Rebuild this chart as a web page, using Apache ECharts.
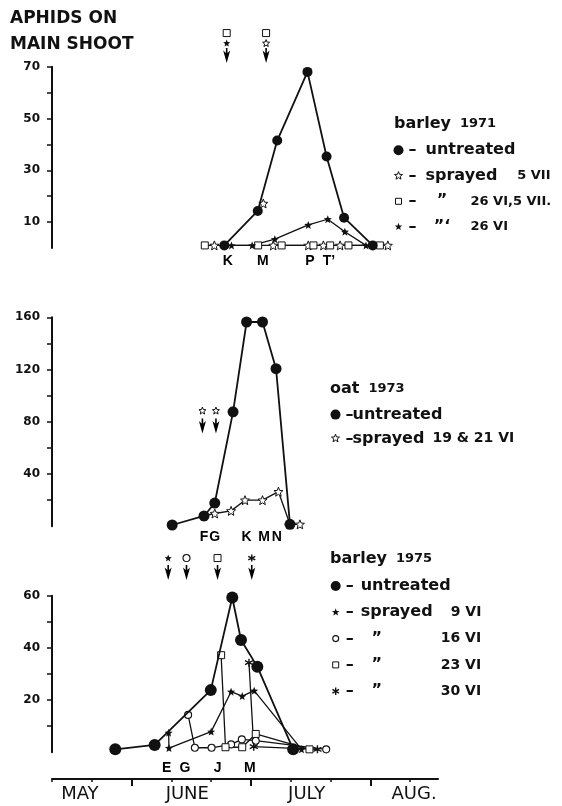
<!DOCTYPE html>
<html><head><meta charset="utf-8">
<script src="https://cdn.jsdelivr.net/npm/echarts@6/dist/echarts.min.js"></script>
<style>html,body{margin:0;padding:0;background:#fff}#c{width:562px;height:806px}</style>
</head><body><div id="c"></div>
<script>
// ===== DATA (x = days after 1 May, months drawn as 30 days) =====
const monthNames = ['MAY', 'JUNE', 'JULY', 'AUG.'];
const monthLabelDays = [17, 44, 74, 101];
const monthBoundaryDays = [30, 60, 90];
const dayTicks = [10, 20, 30, 40, 50, 60, 70, 80, 90, 100];

// Panel 1 – barley 1971
const b71YTicks = [10, 20, 30, 40, 50, 60, 70];
const b71YLabels = [10, 30, 50, 70];
const b71UntreatedX = [53.3, 61.7, 66.6, 74.2, 79.0, 83.4, 90.6];
const b71UntreatedY = [1, 14.3, 41.5, 68, 35.3, 11.7, 1];
const b71Spr5VIIX = [50.8, null, 63.1, null, 65.6, 74.4, 78.2, 82.4, 94.4];
const b71Spr5VIIY = [1, null, 17.2, null, 1, 1, 1, 1, 1];
const b71Spr26VI5VIIX = [48.4, 61.8, 67.7, 75.7, 79.9, 84.5, 92.4];
const b71Spr26VI5VIIY = [1, 1, 1, 1, 1, 1, 1];
const b71Spr26VIX = [55.1, 60.3, 66.0, 74.4, 79.3, 83.6, 88.9];
const b71Spr26VIY = [1, 1, 3.4, 8.9, 11.1, 6.3, 1];
const b71Stages = ['K', 'M', 'P', 'T’'];
const b71StageX = [54.2, 63.0, 74.8, 79.6];
const b71SprayX = [53.9, 63.8];
const b71SprayMarks = [['filledStar', 'openSquare'], ['openStar', 'openSquare']];
const b71Title = ['barley', '1971'];
const b71Treat = ['untreated', 'sprayed', '”', '”‘'];
const b71Dates = ['', '5 VII', '26 VI,5 VII.', '26 VI'];

// Panel 2 – oat 1973
const o73YTicks = [20, 40, 60, 80, 100, 120, 140, 160];
const o73YLabels = [40, 80, 120, 160];
const o73UntreatedX = [40.2, 48.2, 50.9, 55.5, 58.9, 62.9, 66.3, 69.8];
const o73UntreatedY = [1, 7.9, 17.8, 87.6, 156.4, 156.4, 120.7, 1.5];
const o73SprayedX = [48.2, 50.9, 55.0, 58.5, 62.9, 66.9, 69.8, 72.3];
const o73SprayedY = [7.9, 9.8, 11.8, 20, 20, 26.5, 1.5, 1.5];
const o73Stages = ['F', 'G', 'K', 'M', 'N'];
const o73StageX = [48.2, 50.9, 58.9, 63.3, 66.5];
const o73SprayX = [47.8, 51.2];
const o73SprayMarks = [['openStar'], ['openStar']];
const o73Title = ['oat', '1973'];
const o73Treat = ['untreated', 'sprayed'];
const o73Dates = ['', '19 & 21 VI'];

// Panel 3 – barley 1975
const b75YTicks = [10, 20, 30, 40, 50, 60];
const b75YLabels = [20, 40, 60];
const b75UntreatedX = [25.9, 35.8, 49.9, 55.3, 57.5, 61.6, 70.6];
const b75UntreatedY = [1.1, 2.8, 23.8, 59.3, 43, 32.8, 1.1];
const b75Spr9VIX = [39.3, 39.4, 50.0, 55.0, 57.8, 60.8, 72.7];
const b75Spr9VIY = [7.5, 1.6, 7.9, 23.2, 21.5, 23.6, 1.1];
const b75Spr16VIX = [44.2, 45.9, 50.1, 55.0, 57.7, 61.2, 78.9];
const b75Spr16VIY = [14.3, 1.7, 1.7, 3.0, 4.9, 4.4, 1.1];
const b75Spr23VIX = [52.5, 53.6, 57.8, 61.2, 74.7];
const b75Spr23VIY = [37.2, 1.9, 1.9, 7.0, 1.1];
const b75Spr30VIX = [59.5, 60.7, 76.7];
const b75Spr30VIY = [34.3, 2.1, 1.1];
const b75Stages = ['E', 'G', 'J', 'M'];
const b75StageX = [38.8, 43.4, 51.6, 59.7];
const b75SprayX = [39.2, 43.8, 51.6, 60.2];
const b75SprayMarks = [['filledStar'], ['openCircle'], ['openSquare'], ['asterisk']];
const b75Title = ['barley', '1975'];
const b75Treat = ['untreated', 'sprayed', '”', '”', '”'];
const b75Dates = ['', '9 VI', '16 VI', '23 VI', '30 VI'];

// ===== STYLE =====
const INK = '#111111';
const F = 'DejaVu Sans';
const X_MIN = 10, X_MAX = 107;
const GL = 52, GW = 386;

function circleShape(r) { return `M${5 - r},5 A${r},${r},0,1,1,${5 + r},5 A${r},${r},0,1,1,${5 - r},5 Z`; }
function squareShape(s) { const a = 5 - s / 2, b = 5 + s / 2; return `M${a},${a} L${b},${a} L${b},${b} L${a},${b} Z`; }
function starShape(R, r) {
  let p = '';
  for (let i = 0; i < 10; i++) {
    const rr = i % 2 ? r : R, a = -Math.PI / 2 + i * Math.PI / 5;
    p += (i ? 'L' : 'M') + (5 + rr * Math.cos(a)).toFixed(2) + ',' + (5 + rr * Math.sin(a)).toFixed(2) + ' ';
  }
  return p + 'Z';
}
function asteriskShape(R) {
  let p = '';
  [90, 30, 150].forEach(deg => {
    const a = deg * Math.PI / 180, dx = R * Math.cos(a), dy = R * Math.sin(a);
    p += `M${(5 - dx).toFixed(2)},${(5 - dy).toFixed(2)} L${(5 + dx).toFixed(2)},${(5 + dy).toFixed(2)} `;
  });
  return p;
}
const OPEN = { color: '#fff', borderColor: INK, borderWidth: 1, opacity: 1 };
const SHAPES = {
  dot: { symbol: 'circle', size: 10, item: { color: INK, opacity: 1 }, legend: circleShape(5) },
  openStar: { symbol: 'path://' + starShape(5, 2.2), size: 9, item: OPEN, legend: starShape(4.2, 1.8) },
  openSquare: { symbol: 'rect', size: 7, item: OPEN, legend: squareShape(6) },
  filledStar: { symbol: 'path://' + starShape(5, 2.2), size: 8, item: { color: INK, opacity: 1 }, legend: starShape(4, 1.7) },
  openCircle: { symbol: 'circle', size: 7, item: { color: '#fff', borderColor: INK, borderWidth: 1.1, opacity: 1 }, legend: circleShape(3) },
  asterisk: { symbol: 'path://' + asteriskShape(5), size: 8, item: { color: INK, borderColor: INK, borderWidth: 1.4, opacity: 1 }, legend: asteriskShape(3.8) }
};
const ARROW = 'path://M2.7,0 L4.3,0 L4.3,5 L7,2.5 L3.5,15 L0,2.5 L2.7,5 Z';

function pts(xs, ys) { return xs.map((x, i) => (x == null || ys[i] == null) ? ['-', '-'] : [x, ys[i]]); }

const series = [];
function addLine(name, gi, xs, ys, shapeKey, opts = {}) {
  const sh = SHAPES[shapeKey];
  series.push({
    type: 'line', name, xAxisIndex: gi, yAxisIndex: gi, data: pts(xs, ys),
    symbol: sh.symbol, symbolSize: opts.size || sh.size, showSymbol: true, showAllSymbol: true,
    connectNulls: false, itemStyle: sh.item,
    lineStyle: { color: INK, width: opts.width || 1.3 }, z: opts.z || 3, silent: true
  });
}
function addStages(gi, letters, xs, dist) {
  series.push({
    type: 'scatter', xAxisIndex: gi, yAxisIndex: gi, silent: true, clip: false,
    data: xs.map((x, i) => ({ value: [x, 0], name: letters[i] })),
    symbolSize: 1, itemStyle: { color: 'rgba(255,255,255,0)', opacity: 1 },
    label: { show: true, position: 'bottom', distance: dist, formatter: '{b}', fontFamily: 'Liberation Sans',
      fontWeight: 'bold', fontSize: 14, color: '#000', opacity: 1 }
  });
}
function addSprays(gi, xs, tip, marks, firstGap) {
  series.push({
    type: 'scatter', xAxisIndex: gi, yAxisIndex: gi, silent: true, clip: false,
    data: xs.map(x => [x, tip]), symbol: ARROW, symbolSize: [7, 15], symbolOffset: [0, '-50%'],
    itemStyle: { color: '#000', opacity: 1 }, z: 4
  });
  const data = [];
  xs.forEach((x, i) => marks[i].forEach((k, j) => {
    const sh = SHAPES[k];
    data.push({ value: [x, tip], symbol: sh.symbol, symbolSize: Math.min(sh.size, 7),
      symbolOffset: [0, -(firstGap + j * 10)], itemStyle: sh.item });
  }));
  series.push({ type: 'scatter', xAxisIndex: gi, yAxisIndex: gi, silent: true, clip: false, data, z: 4,
    itemStyle: { opacity: 1 } });
}

// panel 1
addLine('b71 untreated', 0, b71UntreatedX, b71UntreatedY, 'dot', { width: 1.8, z: 6, size: 10 });
addLine('b71 sprayed 5 VII', 0, b71Spr5VIIX, b71Spr5VIIY, 'openStar');
addLine('b71 sprayed 26 VI,5 VII', 0, b71Spr26VI5VIIX, b71Spr26VI5VIIY, 'openSquare');
addLine('b71 sprayed 26 VI', 0, b71Spr26VIX, b71Spr26VIY, 'filledStar');
addStages(0, b71Stages, b71StageX, 6);
addSprays(0, b71SprayX, 71.4, b71SprayMarks, 20);
// panel 2
addLine('o73 untreated', 1, o73UntreatedX, o73UntreatedY, 'dot', { width: 1.8, z: 6, size: 11 });
addLine('o73 sprayed', 1, o73SprayedX, o73SprayedY, 'openStar');
addStages(1, o73Stages, o73StageX, 3);
addSprays(1, o73SprayX, 71, o73SprayMarks, 23);
// panel 3
addLine('b75 untreated', 2, b75UntreatedX, b75UntreatedY, 'dot', { width: 1.8, z: 6, size: 12 });
addLine('b75 sprayed 9 VI', 2, b75Spr9VIX, b75Spr9VIY, 'filledStar');
addLine('b75 sprayed 16 VI', 2, b75Spr16VIX, b75Spr16VIY, 'openCircle');
addLine('b75 sprayed 23 VI', 2, b75Spr23VIX, b75Spr23VIY, 'openSquare');
addLine('b75 sprayed 30 VI', 2, b75Spr30VIX, b75Spr30VIY, 'asterisk');
addStages(2, b75Stages, b75StageX, 8);
addSprays(2, b75SprayX, 66, b75SprayMarks, 22);

// grids & axes
const gridDefs = [[66.7, 181.3], [317.3, 209], [595.7, 156.5], [778, 1]];
const grid = gridDefs.map(g => ({ left: GL, width: GW, top: g[0], height: g[1], outerBoundsMode: 'none', containLabel: false }));
const xAxis = [0, 1, 2].map(i => ({ gridIndex: i, type: 'value', min: X_MIN, max: X_MAX, show: false }));
xAxis.push({
  gridIndex: 3, type: 'value', min: X_MIN, max: X_MAX, interval: 10, position: 'top',
  axisLine: { show: true, lineStyle: { color: INK, width: 2 } },
  axisTick: { show: true, customValues: dayTicks, inside: true, length: 3, lineStyle: { color: INK, width: 1.5 } },
  axisLabel: { show: false }, splitLine: { show: false }
});
xAxis.push({
  gridIndex: 3, type: 'value', min: X_MIN, max: X_MAX, interval: 10, position: 'bottom',
  axisLine: { show: false },
  axisTick: { show: true, customValues: monthBoundaryDays, length: 7, lineStyle: { color: INK, width: 2 } },
  axisLabel: { show: true, customValues: monthLabelDays, margin: 6, fontFamily: F, fontSize: 18, color: INK,
    formatter: v => { const i = monthLabelDays.indexOf(v); return i < 0 ? '' : monthNames[i]; } },
  splitLine: { show: false }
});
function yAx(gi, max, interval, ticks, labels) {
  return {
    gridIndex: gi, type: 'value', min: 0, max, interval,
    axisLine: { show: true, lineStyle: { color: INK, width: 2 } },
    axisTick: { show: true, customValues: ticks, length: 5, lineStyle: { color: INK, width: 1.5 } },
    axisLabel: { show: true, customValues: labels, margin: 12, fontFamily: F, fontWeight: 'bold', fontSize: 12, color: INK,
      formatter: v => labels.indexOf(v) >= 0 ? String(v) : '' },
    splitLine: { show: false }
  };
}
const yAxis = [
  yAx(0, 70, 10, b71YTicks, b71YLabels),
  yAx(1, 160, 20, o73YTicks, o73YLabels),
  yAx(2, 60, 10, b75YTicks, b75YLabels),
  { gridIndex: 3, type: 'value', min: 0, max: 1, show: false }
];

// titles
const tRich = { a: { fontFamily: F, fontWeight: 'bold', fontSize: 16, lineHeight: 18, color: INK },
                n: { fontFamily: F, fontWeight: 'bold', fontSize: 13, lineHeight: 18, color: INK, padding: [0, 0, 0, 4] } };
const title = [
  { text: 'APHIDS ON\nMAIN SHOOT', left: 10, top: 6, padding: 0,
    textStyle: { fontFamily: F, fontWeight: 'bold', fontSize: 17, lineHeight: 26, color: INK } },
  { text: `{a|${b71Title[0]}} {n|${b71Title[1]}}`, left: 394, top: 115, padding: 0, textStyle: { rich: tRich } },
  { text: `{a|${o73Title[0]}} {n|${o73Title[1]}}`, left: 330, top: 380, padding: 0, textStyle: { rich: tRich } },
  { text: `{a|${b75Title[0]}} {n|${b75Title[1]}}`, left: 330, top: 550, padding: 0, textStyle: { rich: tRich } }
];

// legends
function rich(dW, twW, qW, bPad, bSize, b2Size, b2Pad) {
  const base = { fontFamily: F, fontWeight: 'bold', color: INK, lineHeight: 18 };
  return {
    d: Object.assign({}, base, { fontSize: 16, width: dW }),
    t: Object.assign({}, base, { fontSize: 16 }),
    tw: Object.assign({}, base, { fontSize: 16 }, twW ? { width: twW } : {}),
    q: Object.assign({}, base, { fontSize: 16, width: qW, align: 'right' }),
    b: Object.assign({}, base, { fontSize: b2Size || bSize, padding: [0, 0, 0, b2Pad || 0] }),
    bp: Object.assign({}, base, { fontSize: bSize, padding: [0, 0, 0, bPad] })
  };
}
function rowText(treat, date) {
  if (!date) return `{d|–}{t|${treat}}`;
  if (treat.charAt(0) === '”') return `{d|–}{q|${treat}}{bp|${date}}`;
  return `{d|–}{tw|${treat}}{b|${date}}`;
}
function makeLegend(names, keys, treat, dates, left, top, gap, richStyle) {
  const map = {};
  names.forEach((n, i) => { map[n] = rowText(treat[i], dates[i]); });
  return {
    orient: 'vertical', left, top, itemWidth: 10, itemHeight: 10, itemGap: gap, padding: 0, selectedMode: false,
    data: names.map((n, i) => {
      const sh = SHAPES[keys[i]];
      return { name: n, icon: 'path://M0,0 M10,10 ' + sh.legend, itemStyle: sh.item };
    }),
    formatter: n => map[n],
    textStyle: { color: INK, fontFamily: F, fontWeight: 'bold', fontSize: 16, rich: richStyle }
  };
}
const legend = [
  makeLegend(['b71 untreated', 'b71 sprayed 5 VII', 'b71 sprayed 26 VI,5 VII', 'b71 sprayed 26 VI'],
    ['dot', 'openStar', 'openSquare', 'filledStar'], b71Treat, b71Dates, 393, 142.3, 9.5,
    rich(17, 91.7, 33, 12, 13)),
  makeLegend(['o73 untreated', 'o73 sprayed'], ['dot', 'openStar'], o73Treat, o73Dates, 330, 406.6, 7.8,
    rich(7, 0, 0, 0, 14, 14, 8)),
  makeLegend(['b75 untreated', 'b75 sprayed 9 VI', 'b75 sprayed 16 VI', 'b75 sprayed 23 VI', 'b75 sprayed 30 VI'],
    ['dot', 'filledStar', 'openCircle', 'openSquare', 'asterisk'], b75Treat, b75Dates, 330, 578, 10.3,
    rich(15, 90, 32, 48, 14))
];

const chart = echarts.init(document.getElementById('c'), null, { renderer: 'canvas' });
chart.setOption({ backgroundColor: '#fff', animation: false, title, legend, grid, xAxis, yAxis, series, tooltip: { show: false } });
</script>
</body></html>
